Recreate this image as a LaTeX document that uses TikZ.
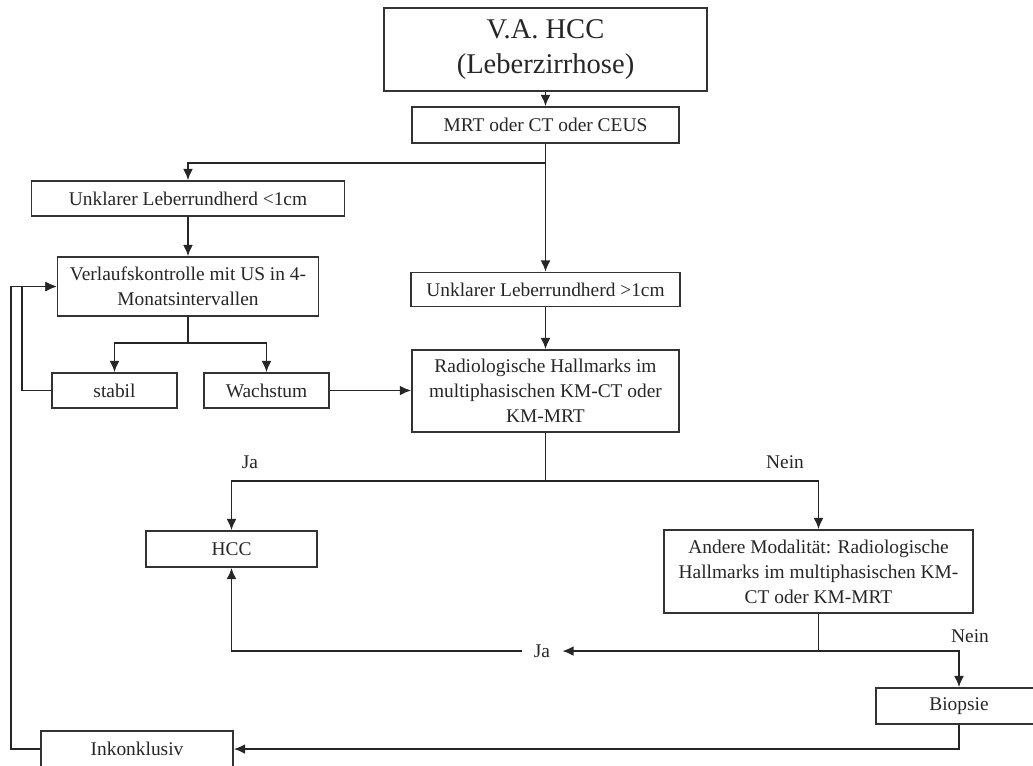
\documentclass[tikz,border=0pt]{standalone}
\usepackage{fontspec}
\setmainfont{Liberation Serif}
\usepackage{tikz}
\usetikzlibrary{arrows,arrows.meta,shapes,positioning}

\begin{document}
\begin{tikzpicture}[x=0.025cm,y=-0.025cm,
  box/.style={draw=black!80,line width=1.2pt,inner sep=0pt,align=center,text=black!85,
    font=\fontsize{13.8}{17.8}\selectfont},
  lbl/.style={inner sep=0pt,text=black!85,font=\fontsize{13.8}{17.8}\selectfont},
  arr/.style={draw=black!85,line width=1.2pt,-{Latex[length=8pt,width=7pt]}},
  ln/.style={draw=black!85,line width=1.2pt}]

\useasboundingbox (0,0) rectangle (1033,765);

\node[box,minimum width=8.075cm,minimum height=2.075cm,font=\fontsize{20.3}{25}\selectfont] (va) at (545.5,49.5) {V.A. HCC\\(Leberzirrhose)};
\node[box,minimum width=6.675cm,minimum height=0.9cm] (mrt) at (545.5,125) {MRT oder CT oder CEUS};
\node[box,minimum width=7.825cm,minimum height=0.875cm] (klein) at (188,198.5) {Unklarer Leberrundherd <1cm};
\node[box,minimum width=6.525cm,minimum height=1.475cm] (verlauf) at (188,286.5) {Verlaufskontrolle mit US in 4-\\Monatsintervallen};
\node[box,minimum width=6.725cm,minimum height=0.85cm] (gross) at (545.5,289.5) {Unklarer Leberrundherd >1cm};
\node[box,minimum width=3.125cm,minimum height=0.875cm] (stabil) at (114.5,390.5) {stabil};
\node[box,minimum width=3.125cm,minimum height=0.875cm] (wachstum) at (266.5,390.5) {Wachstum};
\node[box,minimum width=6.675cm,minimum height=2.05cm] (radio) at (545.5,391) {Radiologische Hallmarks im\\multiphasischen KM-CT oder\\KM-MRT};
\node[box,minimum width=4.275cm,minimum height=0.9cm] (hcc) at (231.5,549) {HCC};
\node[box,minimum width=7.725cm,minimum height=2.075cm] (andere) at (818.5,571.5) {Andere Modalität: Radiologische\\Hallmarks im multiphasischen KM-\\CT oder KM-MRT};
\node[box,minimum width=4.15cm,minimum height=0.9cm] (biopsie) at (959,706) {Biopsie};
\node[box,minimum width=4.8cm,minimum height=0.9cm] (inkon) at (137,749) {Inkonklusiv};

\node[lbl] (ja1) at (250,462) {Ja};
\node[lbl] (nein1) at (785,462) {Nein};
\node[lbl,inner xsep=0.3cm] (ja2) at (542,651) {Ja};
\node[lbl] (nein2) at (970,636) {Nein};

\coordinate (s1) at (545.5,163);
\coordinate (s2) at (188,343);
\coordinate (s3) at (545.5,481);
\coordinate (s4) at (818.5,651);

\draw[arr] (va) -- (mrt);
\draw[arr] (mrt.south) -- (s1) -| (klein.north);
\draw[arr] (s1) -- (gross.north);
\draw[arr] (klein) -- (verlauf);
\draw[ln] (verlauf.south) -- (s2);
\draw[arr] (s2) -| (stabil.north);
\draw[arr] (s2) -| (wachstum.north);
\draw[arr] (wachstum.east) -- (wachstum.east -| radio.west);
\draw[arr] (stabil.west) -- ++(-29,0) |- (verlauf.west);
\draw[arr] (inkon.west) -- ++(-29,0) |- (verlauf.west);
\draw[arr] (gross) -- (radio);

\draw[ln] (radio.south) -- (s3);
\draw[arr] (s3) -| (hcc.north);
\draw[arr] (s3) -| (andere.north);
\draw[ln] (andere.south) -- (s4);
\draw[arr] (s4) -- (ja2.east);
\draw[arr] (s4) -| (biopsie.north);
\draw[arr] (ja2.west) -| (hcc.south);
\draw[arr] (biopsie.south) |- (inkon.east);

\end{tikzpicture}
\end{document}
